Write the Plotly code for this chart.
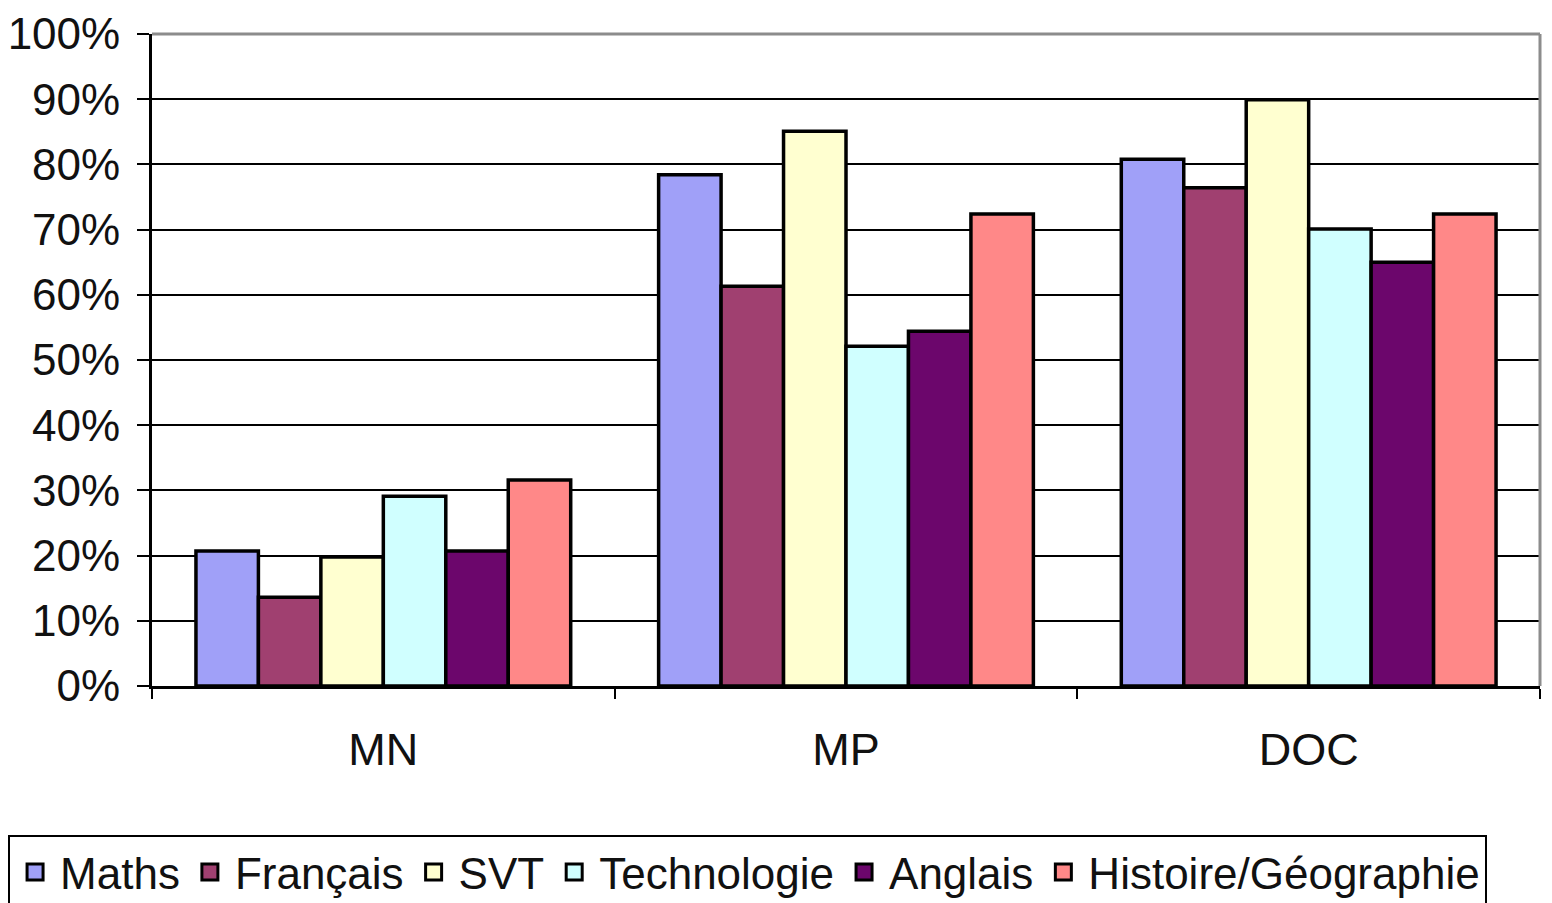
import plotly.graph_objects as go

categories = ["MN", "MP", "DOC"]
subjects = ["Maths", "Français", "SVT", "Technologie", "Anglais", "Histoire/Géographie"]
values = {
    "Maths": [0.207, 0.784, 0.808],
    "Français": [0.136, 0.613, 0.764],
    "SVT": [0.198, 0.851, 0.899],
    "Technologie": [0.291, 0.521, 0.701],
    "Anglais": [0.207, 0.544, 0.650],
    "Histoire/Géographie": [0.316, 0.724, 0.724],
}
colors = ["#A0A0F8", "#A04070", "#FFFFD0", "#D0FFFF", "#6C066C", "#FF8888"]
tick_vals = [i / 10 for i in range(11)]
tick_text = [f"{i * 10}%" for i in range(11)]

FONT = "Liberation Sans, Arial, sans-serif"

fig = go.Figure()
for name, col in zip(subjects, colors):
    fig.add_trace(go.Bar(
        x=categories, y=values[name], name=name, showlegend=False,
        marker=dict(color=col, line=dict(color="#000000", width=3.5)),
    ))
# legend entries with larger square swatches (Excel style)
for name, col in zip(subjects, colors):
    fig.add_trace(go.Scatter(
        x=[None], y=[None], name=name, mode="markers",
        marker=dict(symbol="square", size=20, color=col,
                    line=dict(color="#000000", width=3)),
    ))

fig.update_layout(
    width=1544, height=895,
    margin=dict(l=144, r=12, t=26, b=217, autoexpand=False),
    paper_bgcolor="white", plot_bgcolor="white",
    barmode="group", bargap=0.19, bargroupgap=0,
    font=dict(family=FONT, size=44, color="#111111"),
    showlegend=True,
    legend=dict(
        orientation="h", x=-0.1037, xanchor="left", y=-0.2285, yanchor="top",
        bordercolor="#000000", borderwidth=2, bgcolor="white",
        font=dict(family=FONT, size=44, color="#111111"),
        itemwidth=40, traceorder="normal",
    ),
    xaxis=dict(
        showline=True, linecolor="#000000", linewidth=3,
        ticks="outside", ticklen=10, tickwidth=2, tickcolor="#000000",
        tickson="boundaries", showgrid=False, automargin=False,
        tickfont=dict(size=45), ticklabelstandoff=22,
    ),
    yaxis=dict(
        range=[0, 1], tickvals=tick_vals, ticktext=tick_text,
        showline=True, linecolor="#000000", linewidth=3,
        ticks="outside", ticklen=12, tickwidth=2, tickcolor="#000000",
        showgrid=True, gridcolor="#000000", gridwidth=2, automargin=False,
        zeroline=False, tickfont=dict(size=44), ticklabelstandoff=8,
    ),
)

# grey plot-area border on top and right (Excel style)
fig.add_shape(type="line", xref="paper", yref="paper", x0=0, x1=1, y0=1, y1=1,
              line=dict(color="#8C8C8C", width=3))
fig.add_shape(type="line", xref="paper", yref="paper", x0=1, x1=1, y0=0, y1=1,
              line=dict(color="#8C8C8C", width=3))

fig.write_html("out.html")
